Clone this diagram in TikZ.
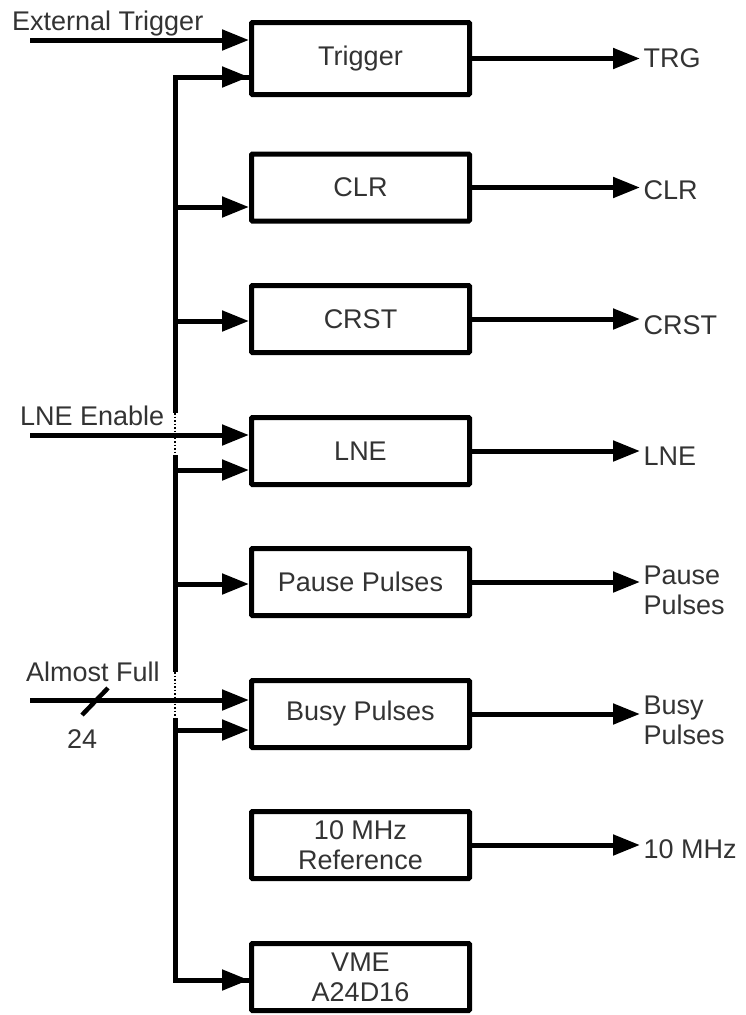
\documentclass[tikz,border=0pt]{standalone}
\usepackage{fontspec}
\setmainfont{Liberation Sans}
\usetikzlibrary{arrows.meta}

\definecolor{txtgray}{RGB}{51,51,51}
\tikzset{
	blk/.style={draw, line width=5pt, rounded corners=1pt, minimum width=218pt, minimum height=67pt, align=center, text=txtgray},
	sig/.style={line width=5pt, -{Triangle[length=27pt, width=20pt]}},
	wire/.style={line width=5pt},
	hop/.style={line width=1.5pt, dotted},
	lbl/.style={text=txtgray, align=left}
}

\begin{document}
\begin{tikzpicture}[x=1pt, y=-1pt, font=\fontsize{27}{30}\selectfont]
	\useasboundingbox (0,0) rectangle (745,1015);

	\node [blk, minimum height=72pt] (trig) at (360.5,58.5) {Trigger};
	\node [blk] (clr) at (360.5,187.5) {CLR};
	\node [blk] (crst) at (360.5,319) {CRST};
	\node [blk] (lne) at (360.5,451) {LNE};
	\node [blk] (pause) at (360.5,582) {Pause Pulses};
	\node [blk] (busy) at (360.5,714) {Busy Pulses};
	\node [blk] (ref) at (360.5,845) {10 MHz\\Reference};
	\node [blk] (vme) at (360.5,977) {VME\\A24D16};

	\node [lbl, anchor=west] (otrg) at (640,58.5) {TRG};
	\node [lbl, anchor=west] (oclr) at (640,190) {CLR};
	\node [lbl, anchor=west] (ocrst) at (640,325) {CRST};
	\node [lbl, anchor=west] (olne) at (640,456) {LNE};
	\node [lbl, anchor=west] (opause) at (640,590) {Pause\\Pulses};
	\node [lbl, anchor=west] (obusy) at (640,720) {Busy\\Pulses};
	\node [lbl, anchor=west] (oref) at (640,849) {10 MHz};

	\draw [sig] (trig.east) -- (trig.east -| otrg.west);
	\draw [sig] (clr.east) -- (clr.east -| oclr.west);
	\draw [sig] (crst.east) -- (crst.east -| ocrst.west);
	\draw [sig] (lne.east) -- (lne.east -| olne.west);
	\draw [sig] (pause.east) -- (pause.east -| opause.west);
	\draw [sig] (busy.east) -- (busy.east -| obusy.west);
	\draw [sig] (ref.east) -- (ref.east -| oref.west);

	\coordinate (ext) at (30,40);
	\coordinate (en) at (30,435);
	\coordinate (full) at (30,700);
	\node [lbl, anchor=base west, inner sep=0pt] (lext) at (12,30) {External Trigger};
	\node [lbl, anchor=base west, inner sep=0pt] (len) at (20,425) {LNE Enable};
	\node [lbl, anchor=base west, inner sep=0pt] (lfull) at (26,681) {Almost Full};
	\node [lbl, anchor=base west, inner sep=0pt] (lwidth) at (67,748) {24};
	\draw [sig] (ext) -- (ext -| trig.west);
	\draw [sig] (en) -- (en -| lne.west);
	\draw [sig] (full) -- (full -| busy.west);
	\draw [line width=4.5pt] (82,715) -- (108,688);

	\coordinate (t0) at (175,77);
	\coordinate (t1) at (175,413);
	\coordinate (t2) at (175,455);
	\coordinate (t3) at (175,672);
	\coordinate (t4) at (175,718);
	\coordinate (t5) at (175,980);
	\draw [wire, line join=miter] (t0 -| trig.west) -- (t0) -- (t1);
	\draw [hop] (t1) -- (t2);
	\draw [wire] (t2) -- (t3);
	\draw [hop] (t3) -- (t4);
	\draw [wire, line join=miter] (t4) -- (t5) -- (t5 -| vme.west);
	\draw [sig] (t0) -- (t0 -| trig.west);
	\draw [sig] (175,207) -- (clr.west |- 0,207);
	\draw [sig] (175,321) -- (crst.west |- 0,321);
	\draw [sig] (175,470) -- (lne.west |- 0,470);
	\draw [sig] (175,584) -- (pause.west |- 0,584);
	\draw [sig] (175,730) -- (busy.west |- 0,730);
	\draw [sig] (t5) -- (t5 -| vme.west);
\end{tikzpicture}
\end{document}
